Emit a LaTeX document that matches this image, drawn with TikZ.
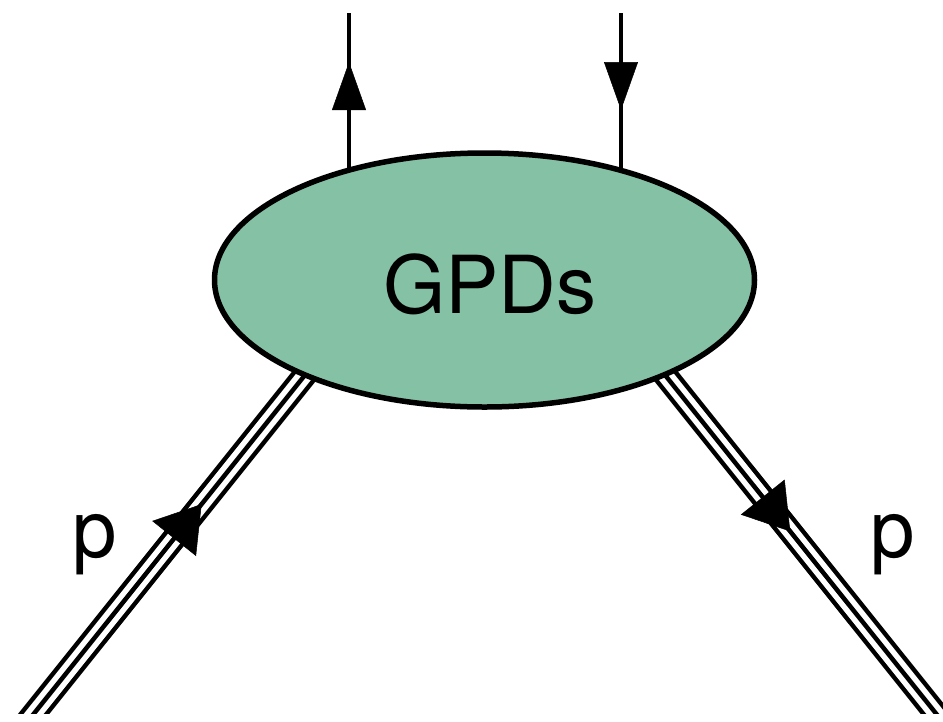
\documentclass[tikz,border=0pt]{standalone}
\usepackage{fontspec}
\setmainfont{TeX Gyre Heros}
\usetikzlibrary{shapes.geometric,arrows.meta,decorations.markings}
\definecolor{gpdgreen}{RGB}{133,194,165}
\tikzset{
  triple/.style={line width=24.5pt, draw=black,
    postaction={draw=white, line width=15.5pt},
    postaction={draw=black, line width=4.5pt}},
  quark/.style={line width=4.5pt, draw=black},
  arrowat/.style n args={3}{postaction={decorate, decoration={markings,
    mark=at position #1 with {\arrow[line width=0.5pt]{Triangle[length=#2,width=#3]}}}}},
  lbl/.style={anchor=base, inner sep=0pt, font=\fontsize{80}{96}\selectfont}
}
\begin{document}
\begin{tikzpicture}[x=1pt,y=-1pt]
  \useasboundingbox (0,0) rectangle (943,721);
  % coordinates
  \coordinate (pinA) at (16,736);
  \coordinate (pinB) at (321,355);
  \coordinate (poutA) at (649,355);
  \coordinate (poutB) at (954,736);
  \coordinate (qinT) at (349,13);
  \coordinate (qinB) at (349,200);
  \coordinate (qoutT) at (621,13);
  \coordinate (qoutB) at (621,200);
  % proton lines
  \begin{scope}
    \clip (0,0) rectangle (943,713);
    \draw[triple, arrowat={297pt}{44pt}{56pt}] (pinA) -- (pinB);
    \draw[triple, arrowat={226pt}{44pt}{56pt}] (poutA) -- (poutB);
  \end{scope}
  % quark lines
  \draw[quark, arrowat={138pt}{48pt}{34pt}] (qinB) -- (qinT);
  \draw[quark, arrowat={97pt}{48pt}{34pt}] (qoutT) -- (qoutB);
  % blob
  \node[ellipse, draw=black, line width=5.5pt, fill=gpdgreen,
        minimum width=540pt, minimum height=254pt, inner sep=0pt] (gpd) at (484.5,280) {};
  \node[lbl] (gpdtext) at (490,313) {GPDs};
  \node[lbl] (plabin) at (95,557) {p};
  \node[lbl] (plabout) at (893,557) {p};
\end{tikzpicture}
\end{document}
